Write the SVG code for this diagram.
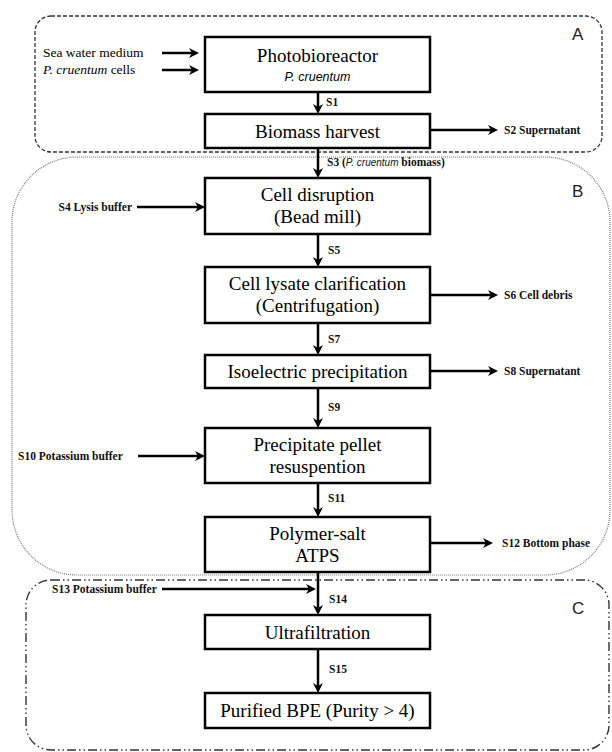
<svg xmlns="http://www.w3.org/2000/svg" width="612" height="752" viewBox="0 0 612 752">
<style>
.box{fill:#fff;stroke:#000;stroke-width:2.5}
.t{font-family:"Times New Roman","Liberation Serif",Tinos,"DejaVu Serif",serif;font-weight:normal;font-size:19px;text-anchor:middle;fill:#000}
.it{font-family:"Liberation Sans",Arial,sans-serif;font-style:italic;font-size:12.5px;text-anchor:middle;fill:#000}
.s{font-family:"Liberation Serif","Times New Roman",serif;font-weight:bold;font-size:11.5px;fill:#111}
.si{font-family:"Liberation Sans",Arial,sans-serif;font-style:italic;font-weight:normal;font-size:10px}
.in{font-family:"Times New Roman","Liberation Serif",Tinos,"DejaVu Serif",serif;font-weight:normal;font-size:13.5px;fill:#000}
.reg{font-family:"Liberation Sans",Arial,sans-serif;font-size:17px;fill:#222}
.ar{stroke:#000;stroke-width:2.5;fill:none;marker-end:url(#ah)}
.rA{fill:none;stroke:#333;stroke-width:1.3;stroke-dasharray:4 2}
.rB{fill:none;stroke:#777;stroke-width:1.2;stroke-dasharray:1 1}
.rC{fill:none;stroke:#333;stroke-width:1.4;stroke-dasharray:9 3 1.5 3 1.5 3}
</style>
<defs>
<marker id="ah" viewBox="0 0 10 10" refX="3" refY="5" markerWidth="10" markerHeight="10" markerUnits="userSpaceOnUse" orient="auto">
<path d="M0,0 L10,5 L0,10 L3,5 z" fill="#000"/>
</marker>
</defs>

<g id="regions">
<rect id="regionA" class="rA" x="35" y="16" width="567" height="136" rx="16"/>
<rect id="regionB" class="rB" x="12" y="157" width="598" height="418" rx="65"/>
<rect id="regionC" class="rC" x="26" y="580" width="583" height="170" rx="25"/>
<text class="reg" x="572" y="40">A</text>
<text class="reg" x="572" y="197">B</text>
<text class="reg" x="572" y="614">C</text>
</g>

<g id="connectors">
<line class="ar" x1="162" y1="53" x2="192" y2="53"/>
<line class="ar" x1="162" y1="70" x2="192" y2="70"/>
<line class="ar" x1="318" y1="92" x2="318" y2="107"/>
<line class="ar" x1="430" y1="130" x2="491" y2="130"/>
<line class="ar" x1="318" y1="148" x2="318" y2="171"/>
<line class="ar" x1="137" y1="207" x2="198" y2="207"/>
<line class="ar" x1="318" y1="234" x2="318" y2="260"/>
<line class="ar" x1="430" y1="295" x2="491" y2="295"/>
<line class="ar" x1="318" y1="323" x2="318" y2="348"/>
<line class="ar" x1="430" y1="371" x2="491" y2="371"/>
<line class="ar" x1="318" y1="388" x2="318" y2="421"/>
<line class="ar" x1="138" y1="456" x2="198" y2="456"/>
<line class="ar" x1="318" y1="483" x2="318" y2="510"/>
<line class="ar" x1="430" y1="543" x2="486" y2="543"/>
<line class="ar" x1="162" y1="589" x2="309" y2="589"/>
<line class="ar" x1="318" y1="572" x2="318" y2="608"/>
<line class="ar" x1="318" y1="649" x2="318" y2="686"/>
</g>

<g id="labels">
<text class="in" x="43" y="57">Sea water medium</text>
<text class="in" x="43" y="74"><tspan font-style="italic">P. cruentum</tspan> cells</text>
<text class="s" x="326" y="106">S1</text>
<text class="s" x="504" y="134">S2 Supernatant</text>
<text class="s" x="327" y="166">S3 (<tspan class="si">P. cruentum</tspan> biomass)</text>
<text class="s" x="132" y="211" text-anchor="end">S4 Lysis buffer</text>
<text class="s" x="328" y="254">S5</text>
<text class="s" x="504" y="299">S6 Cell debris</text>
<text class="s" x="328" y="343">S7</text>
<text class="s" x="504" y="375">S8 Supernatant</text>
<text class="s" x="328" y="411">S9</text>
<text class="s" x="18" y="460">S10 Potassium buffer</text>
<text class="s" x="328" y="502">S11</text>
<text class="s" x="502" y="547">S12 Bottom phase</text>
<text class="s" x="52" y="593">S13 Potassium buffer</text>
<text class="s" x="329" y="603">S14</text>
<text class="s" x="329" y="673">S15</text>
</g>

<g id="photobioreactor">
<rect class="box" x="205" y="37" width="225" height="55"/>
<text class="t" x="317.5" y="62">Photobioreactor</text>
<text class="it" x="317.5" y="81">P. cruentum</text>
</g>
<g id="biomass-harvest">
<rect class="box" x="205" y="114" width="225" height="34"/>
<text class="t" x="317.5" y="137.5">Biomass harvest</text>
</g>
<g id="cell-disruption">
<rect class="box" x="205" y="178" width="225" height="56"/>
<text class="t" x="317.5" y="201">Cell disruption</text>
<text class="t" x="317.5" y="223">(Bead mill)</text>
</g>
<g id="cell-lysate-clarification">
<rect class="box" x="205" y="267" width="225" height="56"/>
<text class="t" x="317.5" y="290">Cell lysate clarification</text>
<text class="t" x="317.5" y="312">(Centrifugation)</text>
</g>
<g id="isoelectric-precipitation">
<rect class="box" x="205" y="355" width="225" height="33"/>
<text class="t" x="317.5" y="378">Isoelectric precipitation</text>
</g>
<g id="precipitate-pellet">
<rect class="box" x="205" y="428" width="225" height="55"/>
<text class="t" x="317.5" y="451">Precipitate pellet</text>
<text class="t" x="317.5" y="473">resuspention</text>
</g>
<g id="polymer-salt-atps">
<rect class="box" x="205" y="517" width="225" height="55"/>
<text class="t" x="317.5" y="540">Polymer-salt</text>
<text class="t" x="317.5" y="562">ATPS</text>
</g>
<g id="ultrafiltration">
<rect class="box" x="205" y="615" width="225" height="34"/>
<text class="t" x="317.5" y="638.5">Ultrafiltration</text>
</g>
<g id="purified-bpe">
<rect class="box" x="205" y="693" width="225" height="35"/>
<text class="t" x="317.5" y="717" font-size="19.5">Purified BPE (Purity &gt; 4)</text>
</g>
</svg>
